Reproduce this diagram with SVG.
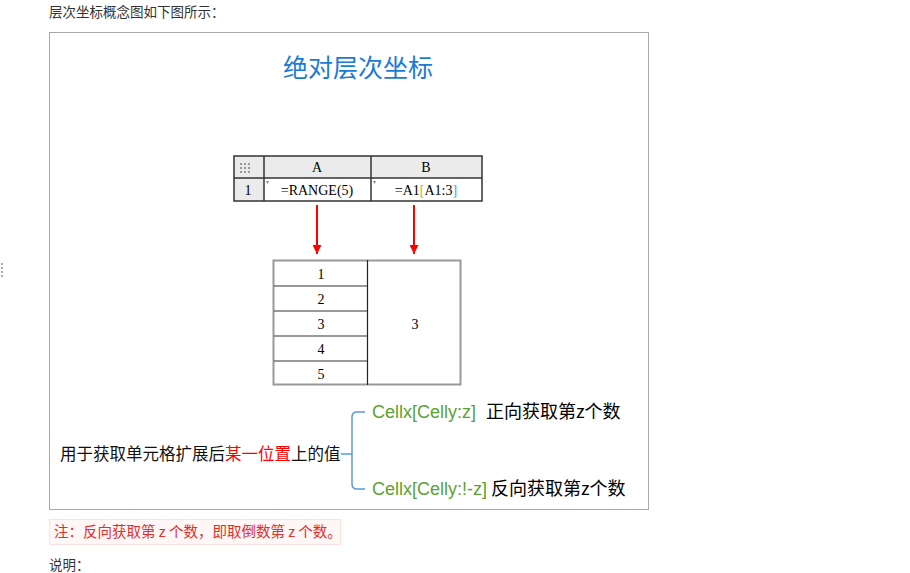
<svg xmlns="http://www.w3.org/2000/svg" width="910" height="573" viewBox="0 0 910 573">
<defs>
<style>
.cjk{font-family:"Noto Sans CJK SC","Noto Sans",sans-serif;}
.cell{font-family:"Liberation Serif","Noto Sans CJK SC",serif;font-size:14px;fill:#000;text-anchor:middle;}
.grid{stroke:#333;stroke-width:1.5;fill:none;}
.arrow{stroke:#f00;stroke-width:2;fill:none;}
.green{fill:#5aa233;font-family:"Liberation Sans",Arial,sans-serif;font-size:18px;}
.blk{fill:#000;font-family:"Noto Sans CJK SC",sans-serif;font-size:18px;}
</style>
<marker id="ah" viewBox="0 0 10 10" refX="10" refY="5" markerWidth="9" markerHeight="9" markerUnits="userSpaceOnUse" orient="auto">
<path d="M0,0 L10,5 L0,10 Z" fill="#f00"/>
</marker>
</defs>
<rect width="910" height="573" fill="#fff"/>
<text x="49" y="17" class="cjk" font-size="13.5" fill="#333">层次坐标概念图如下图所示：</text>
<g id="dots" fill="#aab">
<rect x="1" y="263" width="2" height="2"/><rect x="1" y="267" width="2" height="2"/><rect x="1" y="271" width="2" height="2"/><rect x="1" y="275" width="2" height="2"/>
</g>
<g id="frame">
<rect x="49.5" y="32.5" width="599" height="477" fill="#fff" stroke="#a9a9a9" stroke-width="1"/>
</g>
<g id="title">
<text x="358" y="77" class="cjk" font-size="25" fill="#1a7bd4" text-anchor="middle">绝对层次坐标</text>
</g>
<g id="top-table">
<rect x="234" y="156" width="248" height="22" fill="#ebebeb"/>
<rect x="234" y="178" width="30" height="23" fill="#ebebeb"/>
<rect x="234" y="156" width="248" height="45" class="grid" stroke-width="2"/>
<line x1="234" y1="178" x2="482" y2="178" class="grid"/>
<line x1="264" y1="156" x2="264" y2="201" class="grid"/>
<line x1="371" y1="156" x2="371" y2="201" class="grid"/>
<g fill="#999">
<rect x="240" y="163" width="2" height="2"/><rect x="244" y="163" width="2" height="2"/><rect x="248" y="163" width="2" height="2"/>
<rect x="240" y="167" width="2" height="2"/><rect x="244" y="167" width="2" height="2"/><rect x="248" y="167" width="2" height="2"/>
<rect x="240" y="171" width="2" height="2"/><rect x="244" y="171" width="2" height="2"/><rect x="248" y="171" width="2" height="2"/>
</g>
<text x="317" y="172" class="cell">A</text>
<text x="426" y="172" class="cell">B</text>
<text x="248" y="195" class="cell">1</text>
<text x="317" y="195" class="cell" font-size="13">=RANGE(5)</text>
<text x="426" y="195" class="cell" font-size="13">=A1<tspan fill="#c8b400">[</tspan>A1:3<tspan fill="#27b4d8">]</tspan></text>
<path d="M266,181 l3,0 l-1.5,3 z M373,181 l3,0 l-1.5,3 z" fill="#888"/>
</g>
<g id="connectors">
<line x1="317" y1="205" x2="317" y2="254" class="arrow" marker-end="url(#ah)"/>
<line x1="414" y1="205" x2="414" y2="254" class="arrow" marker-end="url(#ah)"/>
</g>
<g id="result-table">
<rect x="273.5" y="260.5" width="187" height="124" fill="#fff" stroke="#999" stroke-width="2"/>
<line x1="367.5" y1="260" x2="367.5" y2="385" stroke="#222" stroke-width="1.2"/>
<g stroke="#333" stroke-width="1.2">
<line x1="274" y1="286" x2="367" y2="286"/>
<line x1="274" y1="311" x2="367" y2="311"/>
<line x1="274" y1="336" x2="367" y2="336"/>
<line x1="274" y1="361" x2="367" y2="361"/>
</g>
<text x="321" y="279" class="cell">1</text>
<text x="321" y="304" class="cell">2</text>
<text x="321" y="329" class="cell">3</text>
<text x="321" y="354" class="cell">4</text>
<text x="321" y="379" class="cell">5</text>
<text x="415" y="329" class="cell">3</text>
</g>
<g id="desc">
<text x="60" y="460" class="cjk" font-size="16.5" fill="#111">用于获取单元格扩展后<tspan fill="#f00">某一位置</tspan>上的值</text>
<path d="M341,454 H352 M365,412 H357 Q352,412 352,417 V484 Q352,489 357,489 H365" stroke="#5b9bd5" stroke-width="1.5" fill="none"/>
<text x="372" y="418" class="green">Cellx[Celly:z]</text>
<text x="486" y="418" class="blk">正向获取第z个数</text>
<text x="372" y="495" class="green">Cellx[Celly:!-z]</text>
<text x="491" y="495" class="blk">反向获取第z个数</text>
</g>
<g id="note">
<rect x="49.5" y="519.5" width="291" height="25" fill="#fff6f6" stroke="#fde0e0"/>
<text x="54" y="537" class="cjk" font-size="14.5" fill="#e0302c">注：反向获取第 z 个数，即取倒数第 z 个数。</text>
</g>
<text x="49" y="570" class="cjk" font-size="13.5" fill="#333">说明：</text>
</svg>
